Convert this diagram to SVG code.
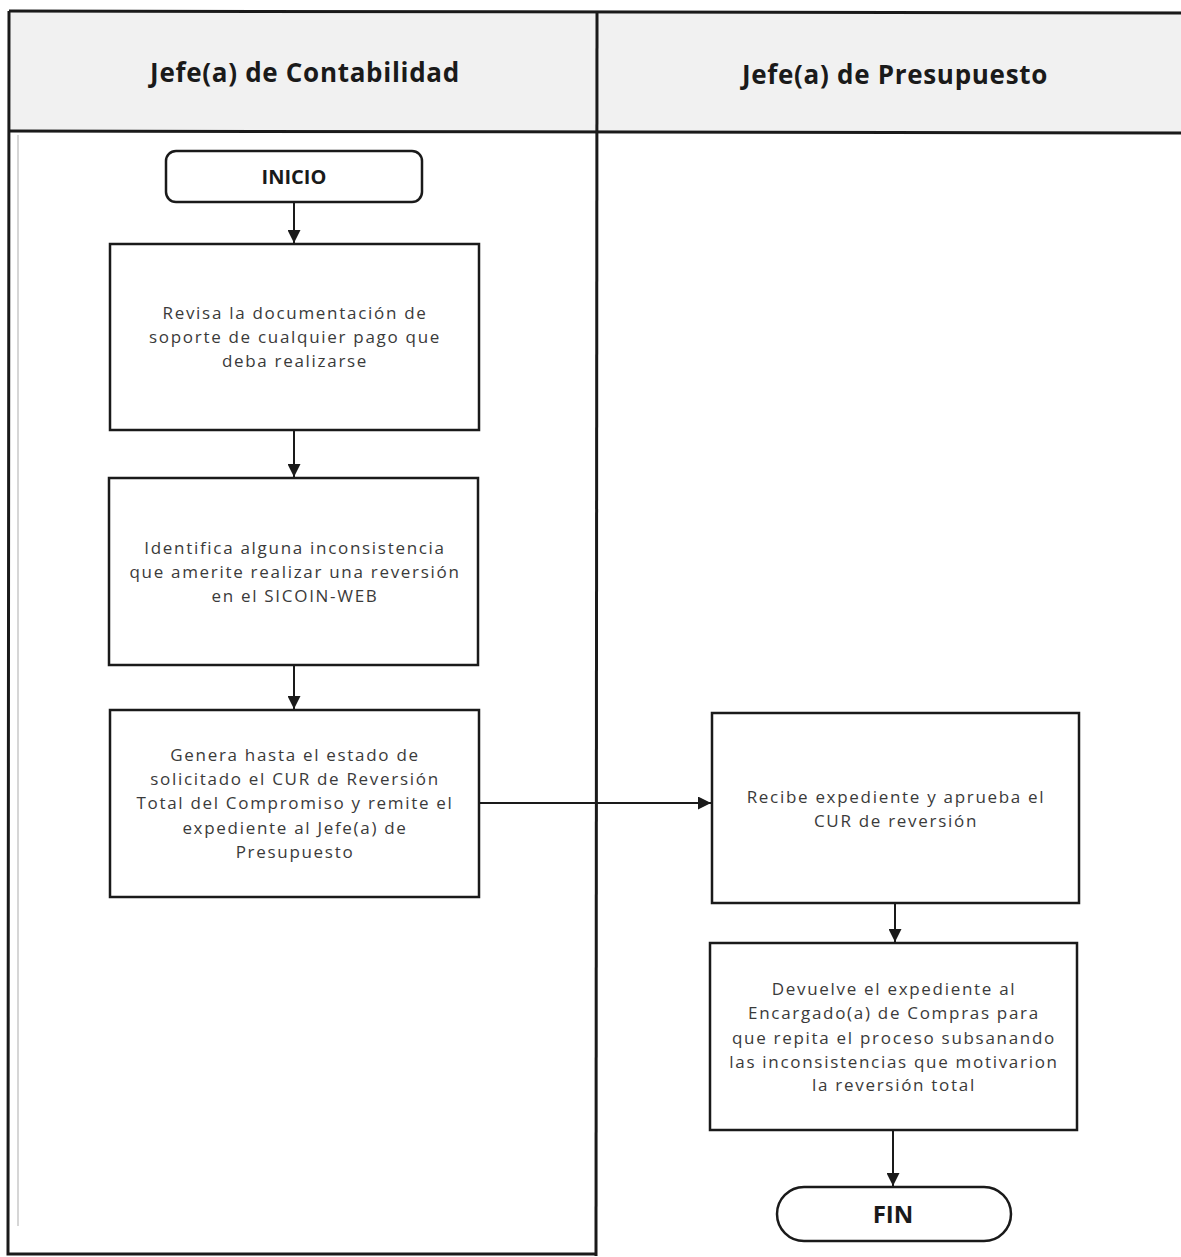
<svg xmlns="http://www.w3.org/2000/svg" width="1181" height="1257" viewBox="0 0 1181 1257">
  <style>
    .lane { fill: none; stroke: #1a1a1a; stroke-width: 3; }
    .hdr { fill: #f1f1f1; }
    .box { fill: #ffffff; stroke: #1a1a1a; stroke-width: 2.5; }
    .title { font-family: "Open Sans", "Liberation Sans", sans-serif; font-weight: bold; font-size: 26px; letter-spacing: 0.7px; fill: #1a1a1a; text-anchor: middle; }
    .term { font-family: "Open Sans", "Liberation Sans", sans-serif; font-weight: bold; font-size: 20px; fill: #1a1a1a; text-anchor: middle; }
    .fin { font-family: "Open Sans", "Liberation Sans", sans-serif; font-weight: bold; font-size: 24px; fill: #1a1a1a; text-anchor: middle; }
    .txt { font-family: "Open Sans", "Liberation Sans", sans-serif; font-size: 17px; letter-spacing: 1.7px; fill: #3a3a3a; text-anchor: middle; }
    .conn { stroke: #1a1a1a; stroke-width: 2; fill: none; marker-end: url(#arrow); }
  </style>
  <defs>
    <marker id="arrow" viewBox="0 0 10 10" refX="10" refY="5" markerWidth="13" markerHeight="13" markerUnits="userSpaceOnUse" orient="auto">
      <path d="M0,0 L10,5 L0,10 z" fill="#1a1a1a"/>
    </marker>
  </defs>

  <rect width="1181" height="1257" fill="#ffffff"/>

  <!-- swimlane frame -->
  <g id="lanes">
    <rect class="hdr" x="9" y="11" width="1172" height="121"/>
    <path class="lane" d="M9,11 L1181,13"/>
    <path class="lane" d="M9,131 L1181,133"/>
    <path class="lane" d="M9,11 L8,1254 L596,1254"/>
    <path class="lane" d="M597,11 L596,1256"/>
    <path d="M18,135 L18,1226" stroke="#c8c8c8" stroke-width="1.5" fill="none"/>
    <text class="title" x="305" y="82">Jefe(a) de Contabilidad</text>
    <text class="title" x="895" y="84">Jefe(a) de Presupuesto</text>
  </g>

  <!-- connectors -->
  <g id="connectors">
    <path class="conn" d="M294,203 L294,243"/>
    <path class="conn" d="M294,431 L294,477"/>
    <path class="conn" d="M294,666 L294,709"/>
    <path class="conn" d="M480,803 L711,803"/>
    <path class="conn" d="M895,904 L895,942"/>
    <path class="conn" d="M893,1131 L893,1186"/>
  </g>

  <g id="inicio">
    <rect class="box" x="166" y="151" width="256" height="51" rx="10" ry="10"/>
    <text class="term" x="294" y="184">INICIO</text>
  </g>

  <g id="revisa">
    <rect class="box" x="110" y="244" width="369" height="186"/>
    <text class="txt" x="295" y="319">Revisa la documentación de</text>
    <text class="txt" x="295" y="343">soporte de cualquier pago que</text>
    <text class="txt" x="295" y="367">deba realizarse</text>
  </g>

  <g id="identifica">
    <rect class="box" x="109" y="478" width="369" height="187"/>
    <text class="txt" x="295" y="554">Identifica alguna inconsistencia</text>
    <text class="txt" x="295" y="578">que amerite realizar una reversión</text>
    <text class="txt" x="295" y="602">en el SICOIN-WEB</text>
  </g>

  <g id="genera">
    <rect class="box" x="110" y="710" width="369" height="187"/>
    <text class="txt" x="295" y="761">Genera hasta el estado de</text>
    <text class="txt" x="295" y="785">solicitado el CUR de Reversión</text>
    <text class="txt" x="295" y="809">Total del Compromiso y remite el</text>
    <text class="txt" x="295" y="834">expediente al Jefe(a) de</text>
    <text class="txt" x="295" y="858">Presupuesto</text>
  </g>

  <g id="recibe">
    <rect class="box" x="712" y="713" width="367" height="190"/>
    <text class="txt" x="896" y="803">Recibe expediente y aprueba el</text>
    <text class="txt" x="896" y="827">CUR de reversión</text>
  </g>

  <g id="devuelve">
    <rect class="box" x="710" y="943" width="367" height="187"/>
    <text class="txt" x="894" y="995">Devuelve el expediente al</text>
    <text class="txt" x="894" y="1019">Encargado(a) de Compras para</text>
    <text class="txt" x="894" y="1044">que repita el proceso subsanando</text>
    <text class="txt" x="894" y="1068">las inconsistencias que motivarion</text>
    <text class="txt" x="894" y="1091">la reversión total</text>
  </g>

  <g id="fin">
    <rect class="box" x="777" y="1187" width="234" height="54" rx="27" ry="27"/>
    <text class="fin" x="893" y="1223">FIN</text>
  </g>
</svg>
